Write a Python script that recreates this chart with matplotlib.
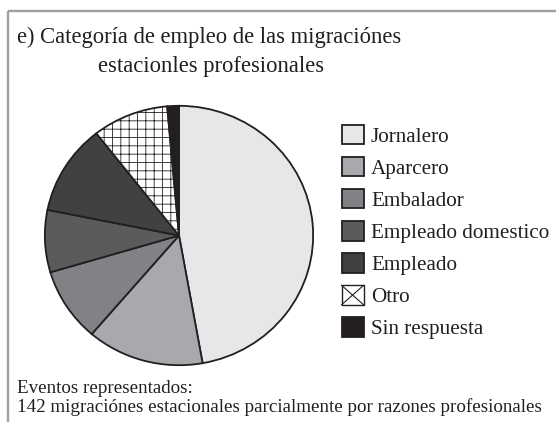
import matplotlib
matplotlib.use("Agg")
import matplotlib.pyplot as plt
from matplotlib.patches import Patch, Rectangle
from matplotlib.lines import Line2D
from matplotlib.legend_handler import HandlerBase

# ---- data ----
categories = ["Jornalero", "Aparcero", "Embalador", "Empleado domestico",
              "Empleado", "Otro", "Sin respuesta"]
counts = [67, 20, 13, 11, 16, 13, 2]
colors = ["#e6e7e8", "#a7a9ac", "#808285", "#5a5b5d", "#414042", "#ffffff", "#231f20"]
hatches = [None, None, None, None, None, "++", None]
title_lines = ["e) Categoría de empleo de las migraciónes",
               "estacionles profesionales"]
footer_lines = ["Eventos representados:",
                "142 migraciónes estacionales parcialmente por razones profesionales"]

W, H = 556, 422
DARK = "#231f20"
plt.rcParams["font.family"] = ["Liberation Serif", "DejaVu Serif"]
plt.rcParams["hatch.linewidth"] = 0.6

fig = plt.figure(figsize=(W / 100, H / 100), dpi=100)

def fx(x):
    return x / W

def fy(y):
    return 1 - y / H

# frame (top and left only)
fig.add_artist(Line2D([fx(7.5), fx(W)], [fy(10.5), fy(10.5)], transform=fig.transFigure,
                      color="#a0a0a0", lw=1.7, solid_capstyle="butt"))
fig.add_artist(Line2D([fx(7.5), fx(7.5)], [fy(10.5), fy(H)], transform=fig.transFigure,
                      color="#a0a0a0", lw=1.7, solid_capstyle="butt"))

# pie
left, right, top, bottom = 43.5, 314.5, 104.5, 366.5
ax = fig.add_axes([fx(left), fy(bottom), fx(right - left), (bottom - top) / H])
wedges, _ = ax.pie(counts, colors=colors, startangle=90, counterclock=False,
                   radius=0.99,
                   wedgeprops=dict(edgecolor=DARK, linewidth=1.3))
for w, h in zip(wedges, hatches):
    if h:
        w.set_hatch(h)
ax.set_aspect("auto")
ax.set_xlim(-1, 1)
ax.set_ylim(-1, 1)
ax.axis("off")

# legend
class HandlerCross(HandlerBase):
    def create_artists(self, legend, orig_handle, xdescent, ydescent, width, height,
                       fontsize, trans):
        r = Rectangle((-xdescent, -ydescent), width, height, facecolor="white",
                      edgecolor=DARK, lw=1.0, transform=trans)
        l1 = Line2D([-xdescent, -xdescent + width], [-ydescent, -ydescent + height],
                    color=DARK, lw=0.8, transform=trans)
        l2 = Line2D([-xdescent, -xdescent + width], [-ydescent + height, -ydescent],
                    color=DARK, lw=0.8, transform=trans)
        return [r, l1, l2]

handles = []
handler_map = {}
for c, col, h in zip(categories, colors, hatches):
    p = Patch(facecolor=col, edgecolor=DARK, linewidth=1.3, label=c)
    if h:
        handler_map[p] = HandlerCross()
    handles.append(p)

fig.legend(handles=handles, labels=categories, handler_map=handler_map,
           loc="center left", bbox_to_anchor=(fx(341.5), fy(232)),
           frameon=False, fontsize=15.2, handlelength=1.05, handleheight=1.05,
           handletextpad=0.35, labelspacing=0.48, borderpad=0, borderaxespad=0,
           labelcolor=DARK)

# title
fig.text(fx(209.5), fy(43), title_lines[0], ha="center", va="baseline",
         fontsize=16.3, color=DARK)
fig.text(fx(211.5), fy(72), title_lines[1], ha="center", va="baseline",
         fontsize=16.3, color=DARK)

# footer
fig.text(fx(17), fy(393), footer_lines[0], ha="left", va="baseline",
         fontsize=13.7, color=DARK)
fig.text(fx(17), fy(412), footer_lines[1], ha="left", va="baseline",
         fontsize=13.7, color=DARK)

fig.savefig("out.png", dpi=100, facecolor="white")
